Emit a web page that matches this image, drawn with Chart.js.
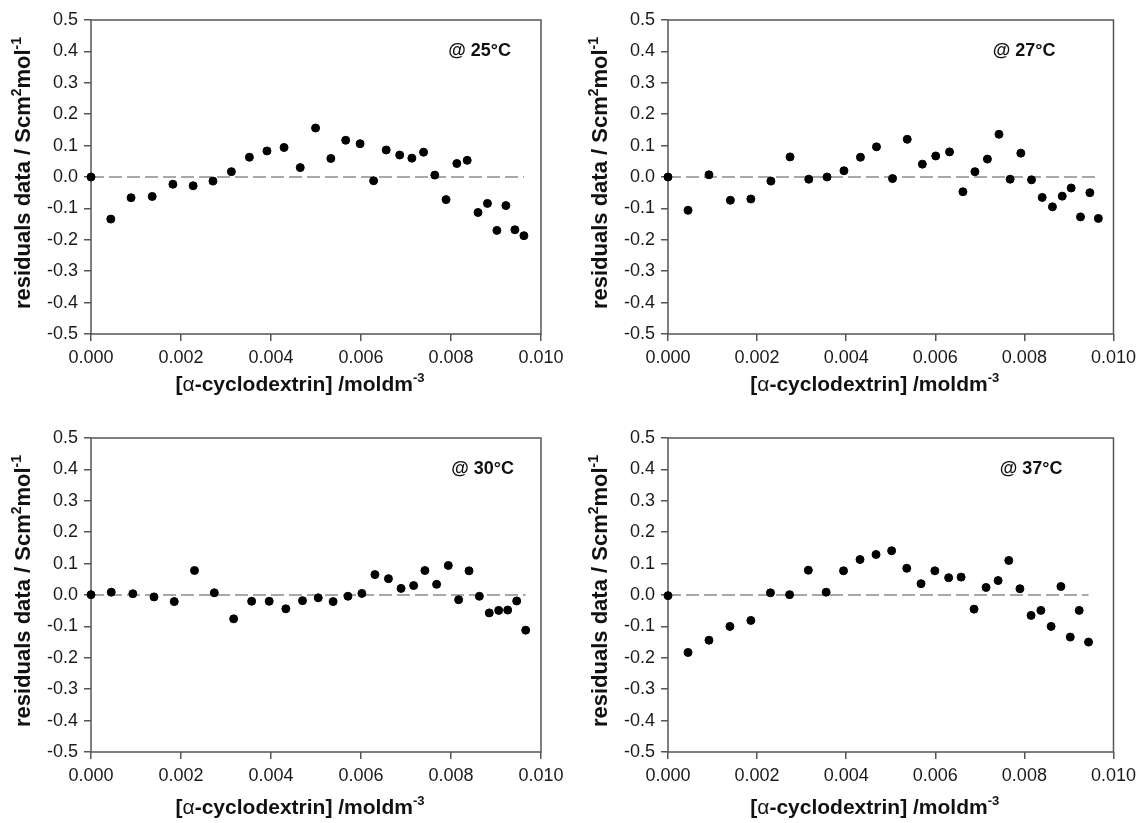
<!DOCTYPE html>
<html>
<head>
<meta charset="utf-8">
<script src="https://cdn.jsdelivr.net/npm/chart.js@4.4.1/dist/chart.umd.min.js"></script>
<style>
  body { margin: 0; background: #fff; }
  .panel { position: absolute; }
</style>
</head>
<body>
<div class="panel" style="left:0px;top:0px"><canvas id="c25" width="571" height="420"></canvas></div>
<div class="panel" style="left:577px;top:0px"><canvas id="c27" width="565" height="420"></canvas></div>
<div class="panel" style="left:0px;top:420px"><canvas id="c30" width="571" height="403"></canvas></div>
<div class="panel" style="left:577px;top:420px"><canvas id="c37" width="565" height="403"></canvas></div>
<script>
// tick values
const xTicks = [0, 0.002, 0.004, 0.006, 0.008, 0.010]
const yTicks = [-0.5, -0.4, -0.3, -0.2, -0.1, 0.0, 0.1, 0.2, 0.3, 0.4, 0.5]

// 25 C
const conc25 = [0, 0.00044, 0.00089, 0.00136, 0.00182, 0.00227, 0.00271, 0.00312, 0.00352, 0.00391, 0.00429,
	0.00465, 0.00499, 0.00533, 0.00566, 0.00598, 0.00628, 0.00656, 0.00686, 0.00713, 0.00739, 0.00764,
	0.00789, 0.00813, 0.00836, 0.00860, 0.00881, 0.00902, 0.00922, 0.00942, 0.00962]
const resid25 = [0, -0.134, -0.066, -0.062, -0.023, -0.028, -0.013, 0.017, 0.063, 0.083, 0.094,
	0.030, 0.156, 0.059, 0.117, 0.106, -0.012, 0.086, 0.070, 0.060, 0.079, 0.006,
	-0.072, 0.043, 0.053, -0.113, -0.084, -0.170, -0.091, -0.168, -0.187]

// 27 C
const conc27 = [0, 0.00045, 0.00092, 0.00140, 0.00186, 0.00231, 0.00274, 0.00316, 0.00357, 0.00395, 0.00432,
	0.00468, 0.00504, 0.00537, 0.00571, 0.00601, 0.00632, 0.00662, 0.00689, 0.00717, 0.00743, 0.00768,
	0.00792, 0.00816, 0.00840, 0.00863, 0.00885, 0.00905, 0.00926, 0.00947, 0.00966]
const resid27 = [0, -0.106, 0.007, -0.074, -0.070, -0.013, 0.064, -0.007, 0.000, 0.020, 0.063,
	0.096, -0.005, 0.120, 0.041, 0.067, 0.080, -0.047, 0.017, 0.057, 0.136, -0.007,
	0.076, -0.009, -0.065, -0.095, -0.061, -0.035, -0.127, -0.050, -0.132]

// 30 C
const conc30 = [0, 0.00045, 0.00093, 0.00140, 0.00185, 0.00230, 0.00274, 0.00317, 0.00357, 0.00396, 0.00433,
	0.00470, 0.00505, 0.00538, 0.00571, 0.00602, 0.00631, 0.00661, 0.00689, 0.00717, 0.00742, 0.00768,
	0.00794, 0.00817, 0.00840, 0.00863, 0.00885, 0.00906, 0.00926, 0.00946, 0.00966]
const resid30 = [0.001, 0.009, 0.004, -0.006, -0.021, 0.078, 0.007, -0.076, -0.020, -0.020, -0.044,
	-0.018, -0.009, -0.021, -0.004, 0.005, 0.065, 0.052, 0.021, 0.030, 0.078, 0.034,
	0.094, -0.015, 0.077, -0.004, -0.057, -0.049, -0.048, -0.019, -0.112]

// 37 C
const conc37 = [0, 0.00045, 0.00092, 0.00139, 0.00186, 0.00230, 0.00273, 0.00315, 0.00355, 0.00394, 0.00431,
	0.00467, 0.00502, 0.00536, 0.00568, 0.00599, 0.00630, 0.00658, 0.00687, 0.00714, 0.00741, 0.00765,
	0.00790, 0.00815, 0.00837, 0.00860, 0.00882, 0.00903, 0.00923, 0.00944]
const resid37 = [-0.002, -0.183, -0.144, -0.100, -0.081, 0.007, 0.001, 0.079, 0.009, 0.077, 0.113,
	0.129, 0.141, 0.085, 0.036, 0.077, 0.055, 0.057, -0.045, 0.024, 0.046, 0.110,
	0.020, -0.065, -0.049, -0.100, 0.027, -0.134, -0.049, -0.150]

const tempLabels = ['@ 25°C', '@ 27°C', '@ 30°C', '@ 37°C']

const FONT = '"Liberation Sans", Arial, Helvetica, sans-serif'
const FRAME = '#555555'

const yTitleRuns = [
	{ t: 'residuals data / Scm', bold: true },
	{ t: '2', bold: true, sup: true },
	{ t: 'mol', bold: true },
	{ t: '-1', bold: true, sup: true }
]
const xTitleRuns = [
	{ t: '[', bold: true },
	{ t: 'α', bold: false },
	{ t: '-cyclodextrin] /moldm', bold: true },
	{ t: '-3', bold: true, sup: true }
]

function runFont(r, size) {
	const s = r.sup ? Math.round(size * 0.62) : size
	return (r.bold ? 'bold ' : '') + s + 'px ' + FONT
}

function drawRuns(ctx, runs, cx, baseline, size) {
	let total = 0
	runs.forEach(r => {
		ctx.font = runFont(r, size)
		total += ctx.measureText(r.t).width
	})
	let x = cx - total / 2
	ctx.textAlign = 'left'
	ctx.textBaseline = 'alphabetic'
	runs.forEach(r => {
		ctx.font = runFont(r, size)
		ctx.fillText(r.t, x, r.sup ? baseline - size * 0.42 : baseline)
		x += ctx.measureText(r.t).width
	})
}

const panelText = {
	id: 'panelText',
	beforeDatasetsDraw(chart) {
		const { ctx, chartArea: a } = chart
		ctx.save()
		ctx.strokeStyle = FRAME
		ctx.lineWidth = 1.5
		ctx.strokeRect(a.left, a.top, a.right - a.left, a.bottom - a.top)
		ctx.restore()
	},
	afterDraw(chart, args, opts) {
		const { ctx, chartArea: a } = chart
		ctx.save()
		ctx.fillStyle = '#111'

		// temperature label
		ctx.font = 'bold 18px ' + FONT
		ctx.textAlign = 'right'
		ctx.textBaseline = 'middle'
		ctx.fillText(opts.label, a.right - opts.labelRight, a.top + 31)

		// x title
		drawRuns(ctx, xTitleRuns, (a.left + a.right) / 2 - 16, a.bottom + opts.xGap + 7, 21)

		// y title
		ctx.translate(a.left - 69 + 8, (a.top + a.bottom) / 2 - 4)
		ctx.rotate(-Math.PI / 2)
		drawRuns(ctx, yTitleRuns, 0, 0, 22)
		ctx.restore()
	}
}

const makeChart = (id, xs, ys, label, lay) => {
	const points = xs.map((x, i) => ({ x: x, y: ys[i] }))
	const zeroLine = [{ x: xs[0], y: 0 }, { x: xs[xs.length - 1], y: 0 }]

	return new Chart(document.getElementById(id), {
		type: 'scatter',
		data: {
			datasets: [{
				data: points,
				backgroundColor: '#000',
				borderColor: '#000',
				pointRadius: 4,
				pointHoverRadius: 4,
				clip: false
			}, {
				type: 'line',
				data: zeroLine,
				borderColor: '#8c8c8c',
				borderWidth: 1.5,
				borderDash: [13, 5],
				pointRadius: 0,
				fill: false
			}]
		},
		options: {
			responsive: false,
			devicePixelRatio: 1,
			animation: false,
			layout: { padding: { top: lay.top, right: lay.right, left: 0, bottom: 0 } },
			plugins: {
				legend: { display: false },
				tooltip: { enabled: false },
				panelText: { label: label, labelRight: lay.labelRight, xGap: lay.xGap }
			},
			scales: {
				x: {
					type: 'linear',
					min: 0,
					max: 0.01,
					afterBuildTicks: axis => { axis.ticks = xTicks.map(v => ({ value: v })) },
					afterFit: axis => { axis.height = lay.xHeight },
					border: { display: false },
					grid: { drawOnChartArea: false, drawTicks: true, tickLength: 7, color: FRAME, lineWidth: 1.5 },
					ticks: {
						autoSkip: false,
						maxRotation: 0,
						padding: 6,
						color: '#1a1a1a',
						font: { family: FONT, size: 18 },
						callback: v => v.toFixed(3)
					}
				},
				y: {
					min: -0.5,
					max: 0.5,
					afterBuildTicks: axis => { axis.ticks = yTicks.map(v => ({ value: v })) },
					afterFit: axis => { axis.width = 91 },
					border: { display: false },
					grid: { drawOnChartArea: false, drawTicks: true, tickLength: 7, color: FRAME, lineWidth: 1.5 },
					ticks: {
						autoSkip: false,
						padding: 6,
						color: '#1a1a1a',
						font: { family: FONT, size: 18 },
						callback: v => v.toFixed(1)
					}
				}
			}
		},
		plugins: [panelText]
	})
}

makeChart('c25', conc25, resid25, tempLabels[0], { top: 20, right: 30, xHeight: 86, labelRight: 30, xGap: 50 })
makeChart('c27', conc27, resid27, tempLabels[1], { top: 20, right: 23, xHeight: 86, labelRight: 58, xGap: 50 })
makeChart('c30', conc30, resid30, tempLabels[2], { top: 18, right: 30, xHeight: 71, labelRight: 27, xGap: 55 })
makeChart('c37', conc37, resid37, tempLabels[3], { top: 18, right: 23, xHeight: 71, labelRight: 51, xGap: 55 })
</script>
</body>
</html>
